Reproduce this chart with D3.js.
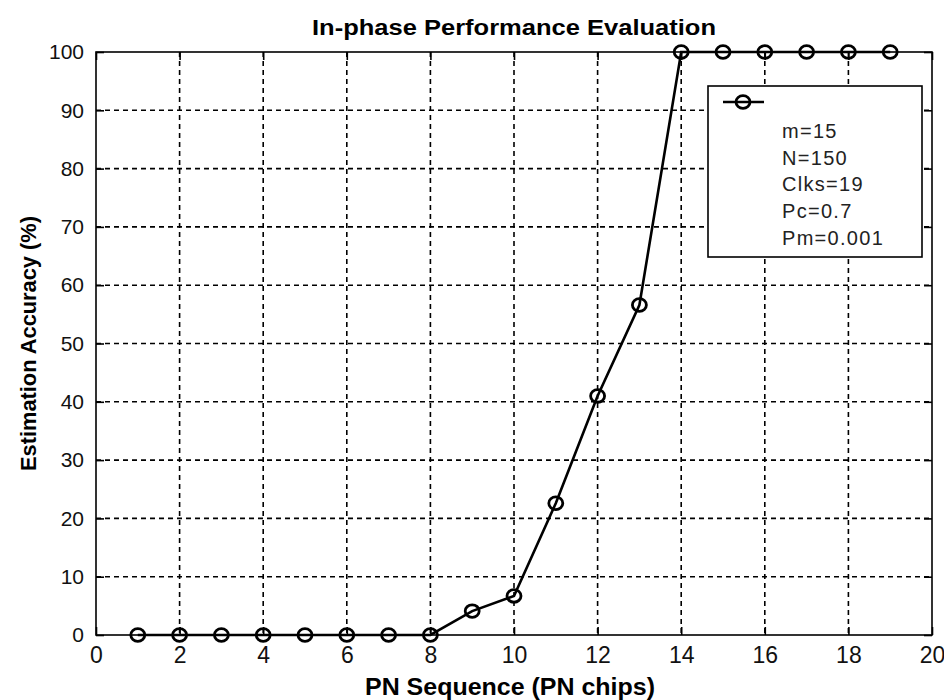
<!DOCTYPE html>
<html>
<head>
<meta charset="utf-8">
<script src="https://cdn.jsdelivr.net/npm/d3@7"></script>
<style>
  body { margin: 0; background: #fff; }
  svg { display: block; }
</style>
</head>
<body>
<script>
// values
const chips = [1, 2, 3, 4, 5, 6, 7, 8, 9, 10, 11, 12, 13, 14, 15, 16, 17, 18, 19];
const accuracy = [0, 0, 0, 0, 0, 0, 0, 0, 4.1, 6.7, 22.6, 41, 56.6, 100, 100, 100, 100, 100, 100];
const xTicks = [0, 2, 4, 6, 8, 10, 12, 14, 16, 18, 20];
const yTicks = [0, 10, 20, 30, 40, 50, 60, 70, 80, 90, 100];
const legendLines = ["m=15", "N=150", "Clks=19", "Pc=0.7", "Pm=0.001"];

const W = 944, H = 700;
const margin = { top: 52, right: 12, bottom: 65, left: 96 };
const width = W - margin.left - margin.right;
const height = H - margin.top - margin.bottom;

const font = "'Liberation Sans', Arial, sans-serif";

const svg = d3.select("body").append("svg")
    .attr("width", W)
    .attr("height", H);

const g = svg.append("g")
    .attr("transform", `translate(${margin.left},${margin.top})`);

const x = d3.scaleLinear().domain([0, 20]).range([0, width]);
const y = d3.scaleLinear().domain([0, 100]).range([height, 0]);

// dashed grid
g.append("g").selectAll("line")
  .data(xTicks.slice(1, -1))
  .join("line")
    .attr("x1", d => x(d)).attr("x2", d => x(d))
    .attr("y1", 0).attr("y2", height)
    .attr("stroke", "#000").attr("stroke-width", 1.6)
    .attr("stroke-dasharray", "5,4");

g.append("g").selectAll("line")
  .data(yTicks.slice(1, -1))
  .join("line")
    .attr("y1", d => y(d)).attr("y2", d => y(d))
    .attr("x1", 0).attr("x2", width)
    .attr("stroke", "#000").attr("stroke-width", 1.6)
    .attr("stroke-dasharray", "5,4");

// axes with inward ticks, on all four sides
const xAxis = g.append("g")
    .attr("transform", `translate(0,${height})`)
    .call(d3.axisBottom(x).tickValues(xTicks).tickSizeInner(-8).tickSizeOuter(0).tickPadding(12));
xAxis.selectAll("text")
    .style("font-family", font).style("font-size", "23px")
    .attr("fill", "#111");

const yAxis = g.append("g")
    .call(d3.axisLeft(y).tickValues(yTicks).tickSizeInner(-8).tickSizeOuter(0).tickPadding(12));
yAxis.selectAll("text").style("font-family", font).style("font-size", "21px").attr("fill", "#111");

g.append("g")
    .call(d3.axisTop(x).tickValues(xTicks).tickSizeInner(-8).tickSizeOuter(0).tickFormat(""));
g.append("g")
    .attr("transform", `translate(${width},0)`)
    .call(d3.axisRight(y).tickValues(yTicks).tickSizeInner(-8).tickSizeOuter(0).tickFormat(""));

g.selectAll(".domain").remove();
g.selectAll(".tick line").attr("stroke", "#000").attr("stroke-width", 1.6);

g.append("rect")
    .attr("width", width).attr("height", height)
    .attr("fill", "none").attr("stroke", "#000").attr("stroke-width", 1.6);

// data line and markers
const pts = chips.map((c, i) => ({ c, v: accuracy[i] }));
const line = d3.line().x(d => x(d.c)).y(d => y(d.v));

g.append("path")
    .datum(pts)
    .attr("d", line)
    .attr("fill", "none")
    .attr("stroke", "#000")
    .attr("stroke-width", 2.6);

g.selectAll(".marker")
  .data(pts)
  .join("ellipse")
    .attr("class", "marker")
    .attr("cx", d => x(d.c)).attr("cy", d => y(d.v))
    .attr("rx", 7).attr("ry", 6.3)
    .attr("fill", "none")
    .attr("stroke", "#000")
    .attr("stroke-width", 2.8);

// legend
const legend = svg.append("g").attr("transform", "translate(708,86)");
legend.append("rect")
    .attr("width", 214).attr("height", 171)
    .attr("fill", "#fff").attr("stroke", "#000").attr("stroke-width", 1.6);
legend.append("line")
    .attr("x1", 15).attr("x2", 56).attr("y1", 16).attr("y2", 16)
    .attr("stroke", "#000").attr("stroke-width", 2.6);
legend.append("ellipse")
    .attr("cx", 35).attr("cy", 16).attr("rx", 7).attr("ry", 6.3)
    .attr("fill", "none").attr("stroke", "#000").attr("stroke-width", 2.8);
legend.selectAll(".leg-text")
  .data(legendLines)
  .join("text")
    .attr("class", "leg-text")
    .attr("x", 74)
    .attr("y", (d, i) => 45 + i * 26.7)
    .attr("dy", "0.35em")
    .style("font-family", font)
    .style("font-size", "20px")
    .style("letter-spacing", "1.3px")
    .attr("fill", "#222")
    .text(d => d);

// titles (condensed bold, stretched to the reference widths)
svg.append("text")
    .attr("x", margin.left + width / 2)
    .attr("y", 35)
    .attr("text-anchor", "middle")
    .attr("textLength", 404)
    .attr("lengthAdjust", "spacingAndGlyphs")
    .style("font-family", font)
    .style("font-size", "22px")
    .style("font-weight", "bold")
    .text("In-phase Performance Evaluation");

svg.append("text")
    .attr("x", 510)
    .attr("y", 695)
    .attr("text-anchor", "middle")
    .attr("textLength", 290)
    .attr("lengthAdjust", "spacingAndGlyphs")
    .style("font-family", font)
    .style("font-size", "23px")
    .style("font-weight", "bold")
    .text("PN Sequence (PN chips)");

svg.append("text")
    .attr("transform", `translate(28,${margin.top + height / 2}) rotate(-90)`)
    .attr("text-anchor", "middle")
    .attr("dy", "0.35em")
    .attr("textLength", 255)
    .attr("lengthAdjust", "spacingAndGlyphs")
    .style("font-family", font)
    .style("font-size", "22px")
    .style("font-weight", "bold")
    .text("Estimation Accuracy (%)");
</script>
</body>
</html>
